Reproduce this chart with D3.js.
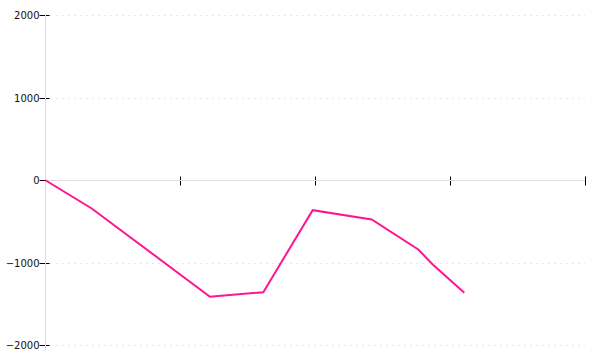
<!DOCTYPE html>
<html>
<head>
<meta charset="utf-8">
<script src="https://cdn.jsdelivr.net/npm/d3@7"></script>
<style>
  body { margin: 0; background: #fff; }
  svg { display: block; }
</style>
</head>
<body>
<svg id="chart" width="600" height="360"></svg>
<script>
// data (x in axis units, 0..4)
var xValues = [0, 0.346, 1.222, 1.617, 1.983, 2.42, 2.765, 2.872, 3.106];
var yValues = [0, -345, -1415, -1360, -366, -479, -842, -1024, -1367];
var xTicks = [0, 1, 2, 3, 4];
var yTicks = [-2000, -1000, 0, 1000, 2000];

var svg = d3.select("#chart");
var x = d3.scaleLinear().domain([0, 4]).range([45, 585]);
var y = d3.scaleLinear().domain([-2000, 2000]).range([345, 15]);

// dashed grid lines
svg.append("g").selectAll("line")
	.data(yTicks.filter(function (d) { return d !== 0; }))
	.enter().append("line")
	.attr("x1", 50).attr("x2", 585)
	.attr("y1", function (d) { return Math.round(y(d)) + 0.5; })
	.attr("y2", function (d) { return Math.round(y(d)) + 0.5; })
	.attr("stroke", "#e6e6e6")
	.attr("stroke-dasharray", "2,4");

// y axis
var yAxis = svg.append("g")
	.attr("transform", "translate(45.5,0.5)")
	.call(d3.axisLeft(y).tickValues(yTicks).tickSize(6).tickPadding(0)
		.tickFormat(function (d) { return String(d).replace("-", "\u2212"); }));
yAxis.select(".domain").remove();
yAxis.selectAll(".tick line").attr("x1", -6).attr("x2", 4).attr("stroke", "#000");
yAxis.selectAll(".tick text")
	.attr("fill", "#111")
	.style("font-family", "DejaVu Sans")
	.style("font-size", "10px");
yAxis.selectAll(".tick").attr("transform", function (d) { return "translate(0," + Math.round(y(d)) + ")"; });

// x axis (no labels)
var xAxis = svg.append("g")
	.attr("transform", "translate(0," + (Math.round(y(0)) + 0.5) + ")")
	.call(d3.axisBottom(x).tickValues(xTicks).tickSize(5).tickFormat(""));
xAxis.select(".domain").remove();
xAxis.selectAll(".tick line").attr("y1", -4).attr("stroke", "#000");
xAxis.selectAll(".tick").attr("transform", function (d) { return "translate(" + (Math.round(x(d)) + 0.5) + ",0)"; });

// axis lines
svg.append("line")
	.attr("x1", 45).attr("x2", 585)
	.attr("y1", Math.round(y(0)) + 0.5).attr("y2", Math.round(y(0)) + 0.5)
	.attr("stroke", "#dddddd");
svg.append("line")
	.attr("x1", 45.5).attr("x2", 45.5)
	.attr("y1", 15).attr("y2", 350)
	.attr("stroke", "#dddddd");

// series line
var line = d3.line()
	.x(function (d, i) { return x(xValues[i]); })
	.y(function (d) { return y(d); });

svg.append("path")
	.datum(yValues)
	.attr("d", line)
	.attr("fill", "none")
	.attr("stroke", "#ff1493")
	.attr("stroke-width", 2);
</script>
</body>
</html>
